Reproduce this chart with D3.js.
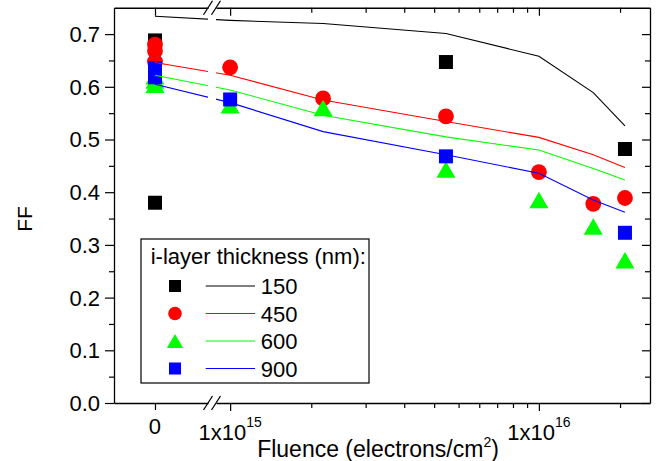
<!DOCTYPE html>
<html>
<head>
<meta charset="utf-8">
<script src="https://cdn.jsdelivr.net/npm/d3@7"></script>
<style>
  html, body { margin: 0; padding: 0; background: #fff; }
  svg { display: block; font-family: "Liberation Sans", Arial, sans-serif; }
</style>
</head>
<body>
<svg id="chart" width="665" height="461"></svg>
<script>
// ---- data -------------------------------------------------------------
// i-layer thicknesses (nm) and their styles
const thicknesses = ["150", "450", "600", "900"];
const colors      = ["#000000", "#ff0000", "#00ff00", "#0000ff"];
const markers     = ["square", "circle", "triangle", "square"];

// measured FF: [fluence (electrons/cm^2), FF]; fluence 0 = before irradiation
const meas150 = [[0, 0.688], [0, 0.380], [5e15, 0.647], [1.9e16, 0.482]];
const meas450 = [[0, 0.680], [0, 0.668], [0, 0.648], [1e15, 0.637], [2e15, 0.578],
                 [5e15, 0.544], [1e16, 0.438], [1.5e16, 0.378], [1.9e16, 0.389]];
const meas600 = [[0, 0.620], [0, 0.612], [0, 0.604], [1e15, 0.565], [2e15, 0.560],
                 [5e15, 0.443], [1e16, 0.385], [1.5e16, 0.335], [1.9e16, 0.271]];
const meas900 = [[0, 0.635], [0, 0.618], [1e15, 0.576], [5e15, 0.468], [1.9e16, 0.323]];

// simulated FF at these fluences
const modelFluence = [0, 1e15, 2e15, 5e15, 1e16, 1.5e16, 1.9e16];
const model150 = [0.734, 0.726, 0.720, 0.701, 0.658, 0.589, 0.526];
const model450 = [0.646, 0.622, 0.575, 0.534, 0.504, 0.471, 0.447];
const model600 = [0.622, 0.594, 0.546, 0.505, 0.480, 0.445, 0.423];
const model900 = [0.605, 0.570, 0.515, 0.471, 0.436, 0.385, 0.362];

// axis ticks
const yMajor = [0, 0.1, 0.2, 0.3, 0.4, 0.5, 0.6, 0.7];
const yMinor = [0.05, 0.15, 0.25, 0.35, 0.45, 0.55, 0.65];
const xZeroTicks = [0];
const xLogMajor = [1e15, 1e16];
const xLogMinor = [2e15, 3e15, 4e15, 5e15, 6e15, 7e15, 8e15, 9e15, 1e16, 2e16];

const xTitle = ["Fluence (electrons/cm", "2", ")"];
const yTitle = "FF";
const legendTitle = "i-layer thickness (nm):";

// ---- layout -------------------------------------------------------------
const L = 114, R = 650, T = 7.75, B = 403;
const breakA = 208, breakB = 216;        // centres of the two break slashes
const FONT = 22;

const svg = d3.select("#chart");

// x: a short linear segment holding 0, then a log segment after the break
const xZero = d3.scaleLinear().domain([-1, 1.293]).range([L, breakA]);
const xLog  = d3.scaleLog().domain([9e14, 2.29e16]).range([breakB, R]);
const X = v => (v === 0 ? xZero(v) : xLog(v));
// minor ticks of the log segment sit slightly left of the decade grid
const xMinorScale = xLog.copy().range(xLog.range().map(r => r - 11.8));

const y = d3.scaleLinear().domain([0, 0.75]).range([B, T]);

// ---- clip (data lines are cut at the axis break) -------------------------
const defs = svg.append("defs");
const clip = defs.append("clipPath").attr("id", "plotClip");
clip.append("rect").attr("x", L).attr("y", T).attr("width", breakA - L).attr("height", B - T);
clip.append("rect").attr("x", breakB).attr("y", T).attr("width", R - breakB).attr("height", B - T);

// ---- symbols --------------------------------------------------------------
const triangleUp = {
  draw(ctx, size) {
    const w = Math.sqrt(size), h = w * 0.87;
    ctx.moveTo(0, -h / 2);
    ctx.lineTo(w / 2, h / 2);
    ctx.lineTo(-w / 2, h / 2);
    ctx.closePath();
  }
};
function symbolPath(kind, scale) {
  if (kind === "square")   return d3.symbol(d3.symbolSquare, Math.pow(14 * scale, 2))();
  if (kind === "circle")   return d3.symbol(d3.symbolCircle, Math.PI * Math.pow(7.9 * scale, 2))();
  return d3.symbol(triangleUp, Math.pow(19 * scale, 2))();
}

// ---- markers ------------------------------------------------------------
const measured = [meas150, meas450, meas600, meas900];
const gMarks = svg.append("g");
measured.forEach((pts, i) => {
  gMarks.append("g").selectAll("path").data(pts).join("path")
    .attr("d", symbolPath(markers[i], 1))
    .attr("transform", d => `translate(${X(d[0])},${y(d[1])})`)
    .attr("fill", colors[i]);
});

// ---- model lines ----------------------------------------------------------
const models = [model150, model450, model600, model900];
const line = d3.line().x(d => X(d[0])).y(d => y(d[1]));
const gLines = svg.append("g").attr("clip-path", "url(#plotClip)");
models.forEach((vals, i) => {
  gLines.append("path")
    .datum(modelFluence.map((f, k) => [f, vals[k]]))
    .attr("d", line)
    .attr("fill", "none")
    .attr("stroke", colors[i])
    .attr("stroke-width", 1.1);
});

// ---- axes -----------------------------------------------------------------
function styleAxis(g, keepDomain) {
  g.attr("font-family", null).attr("font-size", null).attr("color", "#000");
  g.selectAll("line").attr("stroke-width", 1.2);
  g.selectAll(".domain").attr("stroke-width", 1.3);
  if (!keepDomain) g.select(".domain").remove();
  return g;
}

// left
const gLeft = svg.append("g").attr("transform", `translate(${L},0)`)
  .call(d3.axisLeft(y).tickValues(yMajor).tickSize(9).tickSizeOuter(0)
        .tickPadding(5).tickFormat(d3.format(".1f")));
styleAxis(gLeft, true);
gLeft.selectAll("text").attr("font-size", FONT).attr("dy", "0.34em");
styleAxis(svg.append("g").attr("transform", `translate(${L},0)`)
  .call(d3.axisLeft(y).tickValues(yMinor).tickSize(5).tickFormat("")), false);

// right (ticks point inward)
styleAxis(svg.append("g").attr("transform", `translate(${R},0)`)
  .call(d3.axisRight(y).tickValues(yMajor).tickSize(-8).tickSizeOuter(0).tickFormat("")), true);
styleAxis(svg.append("g").attr("transform", `translate(${R},0)`)
  .call(d3.axisRight(y).tickValues(yMinor).tickSize(-5).tickFormat("")), false);

// bottom
styleAxis(svg.append("g").attr("transform", `translate(0,${B})`)
  .call(d3.axisBottom(xZero).tickValues(xZeroTicks).tickSize(7).tickSizeOuter(0).tickFormat("")), true);
styleAxis(svg.append("g").attr("transform", `translate(0,${B})`)
  .call(d3.axisBottom(xLog).tickValues(xLogMajor).tickSize(8).tickSizeOuter(0).tickFormat("")), true);
styleAxis(svg.append("g").attr("transform", `translate(0,${B})`)
  .call(d3.axisBottom(xMinorScale).tickValues(xLogMinor).tickSize(5).tickFormat("")), false);

// top (ticks point inward)
styleAxis(svg.append("g").attr("transform", `translate(0,${T})`)
  .call(d3.axisTop(xZero).tickValues(xZeroTicks).tickSize(-8).tickSizeOuter(0).tickFormat("")), true);
styleAxis(svg.append("g").attr("transform", `translate(0,${T})`)
  .call(d3.axisTop(xLog).tickValues(xLogMajor).tickSize(-8).tickSizeOuter(0).tickFormat("")), true);
styleAxis(svg.append("g").attr("transform", `translate(0,${T})`)
  .call(d3.axisTop(xMinorScale).tickValues(xLogMinor).tickSize(-5).tickFormat("")), false);

// break marks "//" on top and bottom axes
[T, B].forEach(yy => {
  [breakA, breakB].forEach(cx => {
    svg.append("line")
      .attr("x1", cx - 4.5).attr("y1", yy + 7)
      .attr("x2", cx + 4.5).attr("y2", yy - 7)
      .attr("stroke", "#000").attr("stroke-width", 1.3);
  });
});

// x tick labels
const gXLab = svg.append("g").attr("font-size", FONT).attr("fill", "#000").attr("text-anchor", "middle");
xZeroTicks.forEach(v => {
  gXLab.append("text").attr("x", X(v)).attr("y", 434).text(String(v));
});
xLogMajor.forEach(v => {
  const t = gXLab.append("text").attr("x", X(v)).attr("y", 439.5);
  t.append("tspan").text("1x10");
  t.append("tspan").attr("font-size", 14).attr("dy", -12.5).text(String(Math.round(Math.log10(v))));
});

// axis titles
const xt = svg.append("text").attr("x", 378).attr("y", 457)
  .attr("text-anchor", "middle").attr("font-size", 23).attr("fill", "#000");
xt.append("tspan").text(xTitle[0]);
xt.append("tspan").attr("font-size", 14).attr("dy", -10).text(xTitle[1]);
xt.append("tspan").attr("dy", 10).text(xTitle[2]);

svg.append("text")
  .attr("transform", "translate(31.5,219) rotate(-90)")
  .attr("text-anchor", "middle").attr("font-size", 21).attr("fill", "#000")
  .text(yTitle);

// ---- legend ---------------------------------------------------------------
const lg = svg.append("g");
lg.append("rect").attr("x", 141).attr("y", 239).attr("width", 228).attr("height", 144)
  .attr("fill", "#fff").attr("stroke", "#000").attr("stroke-width", 1.2);
lg.append("text").attr("x", 150.7).attr("y", 264.3).attr("font-size", FONT).attr("fill", "#000")
  .text(legendTitle);
thicknesses.forEach((t, i) => {
  const base = 294 + i * 27.5;
  const cy = base - 8;
  lg.append("path").attr("d", symbolPath(markers[i], 0.86))
    .attr("transform", `translate(175,${cy})`).attr("fill", colors[i]);
  lg.append("line").attr("x1", 205.7).attr("x2", 255).attr("y1", cy).attr("y2", cy)
    .attr("stroke", colors[i]).attr("stroke-width", 1.1);
  lg.append("text").attr("x", 260.7).attr("y", base).attr("font-size", FONT).attr("fill", "#000")
    .text(t);
});
</script>
</body>
</html>
